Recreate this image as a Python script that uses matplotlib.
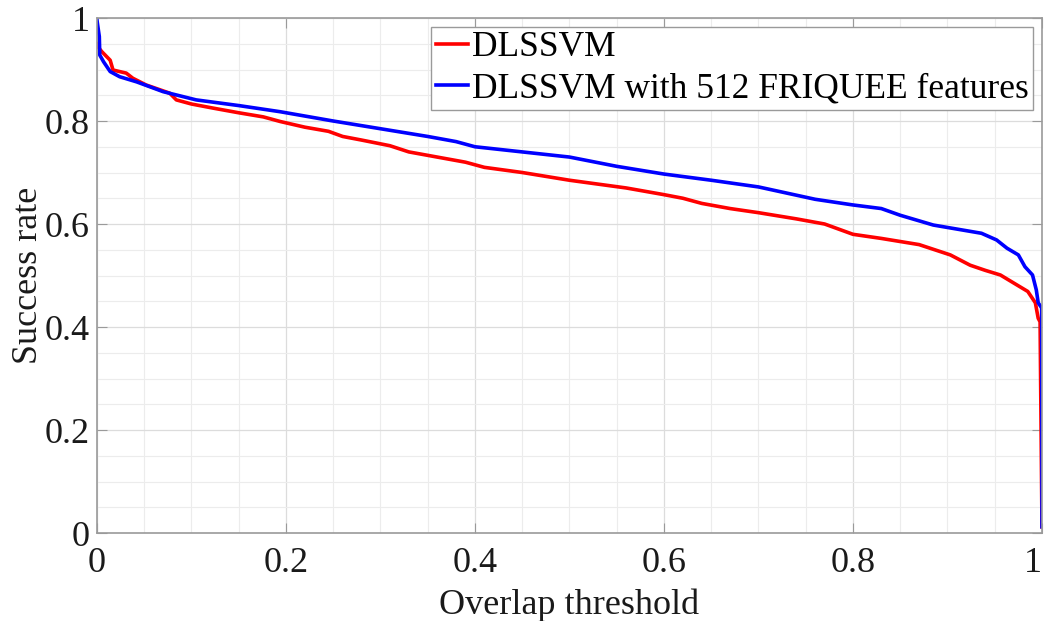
import matplotlib.pyplot as plt
from matplotlib.ticker import MultipleLocator

plt.rcParams['font.family'] = ['Liberation Serif', 'DejaVu Serif']

# DLSSVM
red_x = [0.0, 0.001, 0.005, 0.014, 0.017, 0.031, 0.038, 0.052, 0.077, 0.084, 0.1,
         0.123, 0.15, 0.176, 0.194, 0.22, 0.245, 0.26, 0.28, 0.31, 0.33, 0.36, 0.39,
         0.41, 0.45, 0.5, 0.52, 0.56, 0.6, 0.62, 0.64, 0.67, 0.7, 0.74, 0.77, 0.8,
         0.83, 0.85, 0.87, 0.903, 0.924, 0.94, 0.956, 0.975, 0.985, 0.993, 0.996,
         0.998, 1.0]
red_y = [0.95, 0.944, 0.935, 0.918, 0.899, 0.893, 0.883, 0.870, 0.854, 0.841, 0.833,
         0.825, 0.816, 0.808, 0.799, 0.788, 0.780, 0.770, 0.763, 0.752, 0.740, 0.730,
         0.720, 0.710, 0.700, 0.685, 0.680, 0.670, 0.657, 0.650, 0.640, 0.630, 0.622,
         0.610, 0.600, 0.580, 0.572, 0.566, 0.560, 0.540, 0.520, 0.510, 0.501, 0.480,
         0.469, 0.447, 0.417, 0.41, 0.012]

# DLSSVM with 512 FRIQUEE features
blue_x = [0.0, 0.0025, 0.003, 0.007, 0.014, 0.024, 0.042, 0.07, 0.105, 0.15, 0.194,
          0.25, 0.3, 0.35, 0.38, 0.4, 0.45, 0.5, 0.55, 0.6, 0.65, 0.7, 0.73, 0.76,
          0.8, 0.83, 0.85, 0.885, 0.936, 0.952, 0.963, 0.975, 0.982, 0.990, 0.994,
          0.996, 0.9997, 1.0]
blue_y = [0.996, 0.964, 0.928, 0.915, 0.896, 0.886, 0.876, 0.857, 0.841, 0.830,
          0.818, 0.800, 0.785, 0.770, 0.760, 0.750, 0.740, 0.730, 0.712, 0.697,
          0.685, 0.672, 0.660, 0.648, 0.637, 0.630, 0.617, 0.598, 0.582, 0.569,
          0.553, 0.540, 0.517, 0.501, 0.472, 0.447, 0.437, 0.012]

ticks = [0, 0.2, 0.4, 0.6, 0.8, 1]
tick_labels = ['0', '0.2', '0.4', '0.6', '0.8', '1']

fig = plt.figure(figsize=(10.47, 6.21), dpi=100)
ax = fig.add_axes([0.0926, 0.1417, 0.9026, 0.8293])

ax.plot(red_x, red_y, color='#ff0000', lw=2.6, label='DLSSVM')
ax.plot(blue_x, blue_y, color='#0000ff', lw=2.6, label='DLSSVM with 512 FRIQUEE features')

ax.set_xlim(0, 1)
ax.set_ylim(0, 1)
ax.set_xticks(ticks, tick_labels)
ax.set_yticks(ticks, tick_labels)
ax.xaxis.set_minor_locator(MultipleLocator(0.05))
ax.yaxis.set_minor_locator(MultipleLocator(0.05))

ax.grid(which='major', color='#dcdcdc', lw=0.9)
ax.grid(which='minor', color='#ececec', lw=0.8)
ax.set_axisbelow(True)

for s in ax.spines.values():
    s.set_color('#9a9a9a')
    s.set_linewidth(1.2)
ax.tick_params(which='major', direction='in', length=7, color='#9a9a9a',
               labelsize=26, labelcolor='#1a1a1a')
ax.tick_params(axis='x', pad=10)
ax.tick_params(axis='y', pad=5)
ax.tick_params(which='minor', length=0)
ax.tick_params(top=True, right=True)
# the last x label sits on the figure edge, as in the original; pull it in a touch
ax.get_xticklabels()[-1].set_horizontalalignment('right')
ax.get_xticklabels()[-1].set_x(1.0)

ax.set_xlabel('Overlap threshold', fontsize=26, color='#1a1a1a', labelpad=6)
ax.set_ylabel('Success rate', fontsize=26, color='#1a1a1a', labelpad=0)

leg = ax.legend(loc='upper right', fontsize=25.5, frameon=True, fancybox=False,
                edgecolor='#9a9a9a', framealpha=1, handlelength=0.9,
                handletextpad=0.12, borderpad=0.12, labelspacing=0.22,
                borderaxespad=0.26)
leg.get_frame().set_linewidth(1.0)
for t in leg.get_texts():
    t.set_color('black')

fig.savefig('out.png', dpi=100)
